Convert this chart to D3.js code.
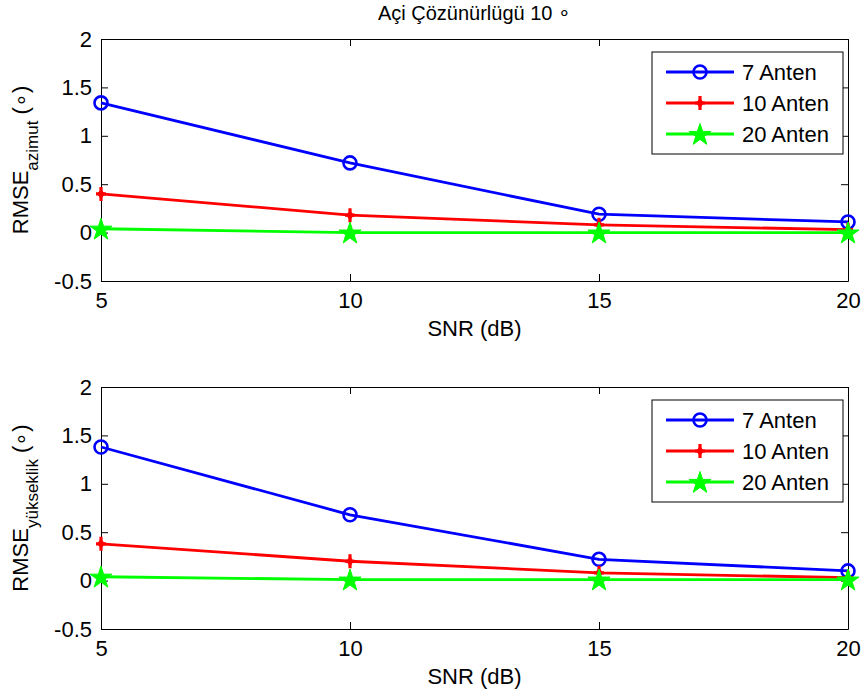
<!DOCTYPE html>
<html>
<head>
<meta charset="utf-8">
<script src="https://cdn.jsdelivr.net/npm/d3@7"></script>
<style>
html,body{margin:0;padding:0;background:#fff;}
svg text{font-family:"Liberation Sans",Arial,sans-serif;fill:#000;}
</style>
</head>
<body>
<svg id="chart" width="866" height="700"></svg>
<script>
// ---- data ----
const snr = [5, 10, 15, 20];
const seriesNames = ["7 Anten", "10 Anten", "20 Anten"];
const azimut7  = [1.34, 0.72, 0.19, 0.11];
const azimut10 = [0.40, 0.18, 0.08, 0.03];
const azimut20 = [0.04, 0.00, 0.00, 0.00];
const yuk7  = [1.38, 0.68, 0.22, 0.10];
const yuk10 = [0.38, 0.20, 0.08, 0.03];
const yuk20 = [0.04, 0.01, 0.01, 0.01];
const xTicks = [5, 10, 15, 20];
const yTicks = [-0.5, 0, 0.5, 1, 1.5, 2];
const titleText = "Açi Çözünürlügü 10 \u2218";
const xLabel = "SNR (dB)";

const colors = ["#0000ff", "#ff0000", "#00ff00"];
const markers = ["circle", "plus", "star"];

const svg = d3.select("#chart");
const FS = 22;
const W = {left: 101, right: 848};

const panels = [
  {top: 39, bottom: 281, data: [azimut7, azimut10, azimut20], sub: "azimut", title: titleText, xlabY: 328},
  {top: 387, bottom: 629, data: [yuk7, yuk10, yuk20], sub: "yükseklik", title: null, xlabY: 676}
];

function drawMarker(g, type, color) {
  if (type === "circle") {
    g.append("circle").attr("r", 6.5).attr("fill", "none").attr("stroke", color).attr("stroke-width", 2.6);
  } else if (type === "plus") {
    g.append("path").attr("d", "M0,-7L0,7M-5,0L5,0").attr("stroke", color).attr("stroke-width", 3.2);
    g.append("path").attr("d", "M0,-5L4,0L0,5L-4,0Z").attr("fill", color);
  } else {
    g.append("path").attr("d", d3.symbol(d3.symbolStar, 150)()).attr("fill", color)
      .attr("stroke", color).attr("stroke-width", 1).attr("transform", "translate(0,1)");
  }
}

panels.forEach(p => {
  const x = d3.scaleLinear().domain([5, 20]).range([W.left, W.right]);
  const y = d3.scaleLinear().domain([-0.5, 2]).range([p.bottom, p.top]);
  const g = svg.append("g");

  g.append("rect").attr("x", W.left).attr("y", p.top).attr("width", W.right - W.left)
    .attr("height", p.bottom - p.top).attr("fill", "#fff");

  const fmt = d => String(d);
  const axB = g.append("g").attr("transform", `translate(0,${p.bottom})`)
    .call(d3.axisBottom(x).tickValues(xTicks).tickFormat(fmt).tickSizeInner(-7).tickSizeOuter(0).tickPadding(11));
  const axT = g.append("g").attr("transform", `translate(0,${p.top})`)
    .call(d3.axisTop(x).tickValues(xTicks).tickFormat("").tickSizeInner(-7).tickSizeOuter(0));
  const axL = g.append("g").attr("transform", `translate(${W.left},0)`)
    .call(d3.axisLeft(y).tickValues(yTicks).tickFormat(fmt).tickSizeInner(-7).tickSizeOuter(0).tickPadding(9));
  const axR = g.append("g").attr("transform", `translate(${W.right},0)`)
    .call(d3.axisRight(y).tickValues(yTicks).tickFormat("").tickSizeInner(-7).tickSizeOuter(0));
  [axB, axT, axL, axR].forEach(a => {
    a.selectAll(".domain").attr("stroke", "#000").attr("stroke-width", 1);
    a.selectAll(".tick line").attr("stroke", "#000");
    a.selectAll("text").attr("font-size", FS).attr("font-family", "Liberation Sans, Arial, sans-serif").attr("fill", "#000");
  });

  p.data.forEach((vals, i) => {
    const pts = snr.map((s, k) => [x(s), y(vals[k])]);
    g.append("path").attr("d", d3.line()(pts)).attr("fill", "none")
      .attr("stroke", colors[i]).attr("stroke-width", 2.8);
    pts.forEach(pt => {
      const mg = g.append("g").attr("transform", `translate(${pt[0]},${pt[1]})`);
      drawMarker(mg, markers[i], colors[i]);
    });
  });

  g.append("text").attr("x", (W.left + W.right) / 2).attr("y", p.xlabY).attr("dy", "0.35em")
    .attr("text-anchor", "middle").attr("font-size", FS).text(xLabel);

  const cy = (p.top + p.bottom) / 2;
  const yl = g.append("text").attr("transform", `translate(28,${cy}) rotate(-90)`)
    .attr("text-anchor", "middle").attr("font-size", FS);
  yl.append("tspan").text("RMSE");
  yl.append("tspan").attr("font-size", 17).attr("dy", 10).text(p.sub);
  yl.append("tspan").attr("dy", -10).text(" (\u2218)");

  if (p.title) {
    g.append("text").attr("x", (W.left + W.right) / 2).attr("y", 13).attr("dy", "0.35em")
      .attr("text-anchor", "middle").attr("font-size", 20).text(p.title);
  }

  const lx = 652, ly = p.top + 13, lw = 191, lh = 102;
  const lg = g.append("g");
  lg.append("rect").attr("x", lx).attr("y", ly).attr("width", lw).attr("height", lh)
    .attr("fill", "#fff").attr("stroke", "#000").attr("stroke-width", 1);
  seriesNames.forEach((name, i) => {
    const ry = ly + 20 + i * 31;
    lg.append("line").attr("x1", lx + 14).attr("x2", lx + 82).attr("y1", ry).attr("y2", ry)
      .attr("stroke", colors[i]).attr("stroke-width", 2.8);
    const mg = lg.append("g").attr("transform", `translate(${lx + 48},${ry})`);
    drawMarker(mg, markers[i], colors[i]);
    lg.append("text").attr("x", lx + 90).attr("y", ry).attr("dy", "0.35em")
      .attr("font-size", FS).text(name);
  });
});
</script>
</body>
</html>
